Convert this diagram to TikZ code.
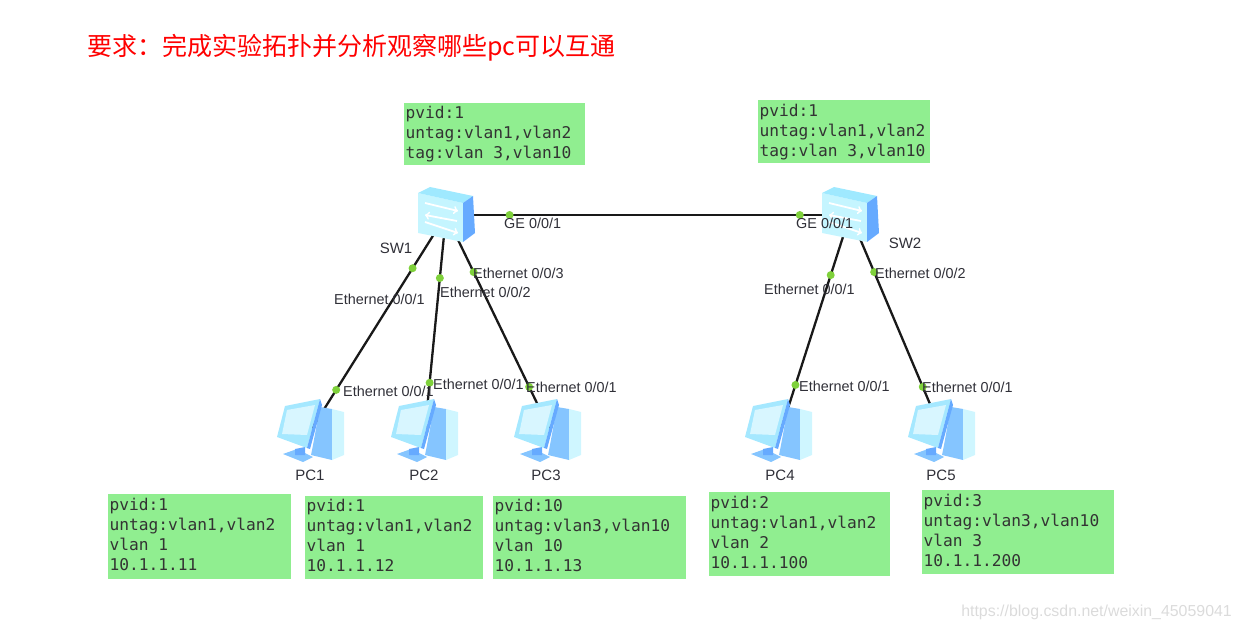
\documentclass[tikz,border=0pt]{standalone}
\usepackage{fontspec}
\setmainfont{Liberation Sans}
\setmonofont{DejaVu Sans Mono}
\newfontfamily\cjk{Noto Sans CJK SC}
\usetikzlibrary{positioning}
\definecolor{boxgreen}{HTML}{90EE90}
\definecolor{portgreen}{HTML}{7FD13B}
\definecolor{lightcyan}{HTML}{C5F5FF}
\definecolor{topcyan}{HTML}{9FE9FF}
\definecolor{sideblue}{HTML}{66AAFF}
\definecolor{midblue}{HTML}{85C5FF}
\definecolor{screencyan}{HTML}{D8F6FF}
\definecolor{monitorcyan}{HTML}{A5E8FF}
\definecolor{towercyan}{HTML}{CFF6FF}
\definecolor{labelgrey}{HTML}{303038}
\tikzset{
  devnode/.style={inner sep=0pt, minimum size=0pt},
  link/.style={line width=2.3pt, black!90},
  portdot/.style={circle, fill=portgreen, inner sep=0pt, minimum size=8pt},
  portlabel/.style={anchor=west, inner sep=0pt, text=labelgrey, font=\fontsize{14.4}{16}\selectfont},
  devlabel/.style={inner sep=0pt, text=labelgrey, font=\fontsize{15}{17}\selectfont},
  greenbox/.style={anchor=north west, fill=boxgreen, inner xsep=1.5pt, inner ysep=0pt, align=flush left, text=black!80,
    font=\ttfamily\fontsize{16.2}{20}\selectfont},
  lowbox/.style={greenbox, execute at end node={\par\vspace*{4pt}}},
  switchicon/.pic={
    \fill[lightcyan] (-28,-22) -- (17,-12) -- (17,27) -- (-28,18) -- cycle;
    \fill[topcyan] (-28,-22) -- (-16,-28) -- (27,-19) -- (17,-12) -- cycle;
    \fill[sideblue] (17,-12) -- (27,-19) -- (29,18) -- (17,27) -- cycle;
    \draw[white, line width=1.8pt, ->] (-21,-12) -- (12,-4);
    \draw[white, line width=1.8pt, <-] (-21,0) -- (11,6);
    \draw[white, line width=1.8pt, ->] (-21,7) -- (12,18);
  },
  pcicon/.pic={
    \fill[midblue] (9,-23) -- (21,-21) -- (21,30) -- (0,25) -- (2,15) -- cycle;
    \fill[towercyan] (21,-21) -- (33,-18) -- (33,25) -- (21,30) -- cycle;
    \fill[midblue] (-28,24) -- (-14,19) -- (2,27) -- (-8,32) -- cycle;
    \fill[sideblue] (-16,19) -- (-6,17) -- (-6,25) -- (-16,25) -- cycle;
    \fill[monitorcyan] (-34,7) -- (-26,-24) -- (9,-31) -- (-4,18) -- cycle;
    \fill[sideblue] (9,-31) -- (11,-25) -- (-1,19) -- (-4,18) -- cycle;
    \fill[screencyan] (-29,4) -- (-24,-20) -- (4,-25) -- (-4,5) -- cycle;
  }
}
\begin{document}
\begin{tikzpicture}[x=1pt, y=-1pt]
  \useasboundingbox (0,0) rectangle (1240,631);
  \node[anchor=west, inner sep=0pt, text=red, font=\cjk\fontsize{25}{30}\selectfont] (title) at (87,48) {要求：完成实验拓扑并分析观察哪些pc可以互通};

  \node[greenbox, text width=178pt, minimum height=62pt] (boxsw1) at (404,103) {pvid:1\\untag:vlan1,vlan2\\tag:vlan 3,vlan10};
  \node[greenbox, text width=169pt, minimum height=63pt] (boxsw2) at (758,100) {pvid:1\\untag:vlan1,vlan2\\tag:vlan 3,vlan10};
  \node[lowbox, text width=180pt, minimum height=85pt] (boxpc1) at (108,494) {pvid:1\\untag:vlan1,vlan2\\vlan 1\\10.1.1.11};
  \node[lowbox, text width=175pt, minimum height=83pt] (boxpc2) at (305,496) {pvid:1\\untag:vlan1,vlan2\\vlan 1\\10.1.1.12};
  \node[lowbox, text width=190pt, minimum height=83pt] (boxpc3) at (493,496) {pvid:10\\untag:vlan3,vlan10\\vlan 10\\10.1.1.13};
  \node[lowbox, text width=178pt, minimum height=84pt] (boxpc4) at (709,492) {pvid:2\\untag:vlan1,vlan2\\vlan 2\\10.1.1.100};
  \node[lowbox, text width=189pt, minimum height=84pt] (boxpc5) at (922,490) {pvid:3\\untag:vlan3,vlan10\\vlan 3\\10.1.1.200};

  \node[devnode] (sw1) at (446,215) {};
  \node[devnode] (sw2) at (850,215) {};
  \node[devnode] (pc1) at (311,430) {};
  \node[devnode] (pc2) at (425,430) {};
  \node[devnode] (pc3) at (550,430) {};
  \node[devnode] (pc4) at (781,430) {};
  \node[devnode] (pc5) at (941,430) {};

  \draw[link] (sw1) -- node[portdot, pos=.157] (d1) {} node[portdot, pos=.876] (d2) {} (sw2);
  \draw[link] (sw1) -- node[portdot, pos=.247] (d3) {} node[portdot, pos=.814] (d4) {} (pc1);
  \draw[link] (sw1) -- node[portdot, pos=.293] (d5) {} node[portdot, pos=.781] (d6) {} (pc2);
  \draw[link] (sw1) -- node[portdot, pos=.265] (d7) {} node[portdot, pos=.800] (d8) {} (pc3);
  \draw[link] (sw2) -- node[portdot, pos=.279] (d9) {} node[portdot, pos=.791] (d10) {} (pc4);
  \draw[link] (sw2) -- node[portdot, pos=.265] (d11) {} node[portdot, pos=.800] (d12) {} (pc5);

  \pic at (sw1) {switchicon};
  \pic at (sw2) {switchicon};
  \pic at (pc1) {pcicon};
  \pic at (pc2) {pcicon};
  \pic[xshift=-2pt] at (pc3) {pcicon};
  \pic[xshift=-2pt] at (pc4) {pcicon};
  \pic[xshift=1pt] at (pc5) {pcicon};

  \node[devlabel] (lsw1) at (396,248) {SW1};
  \node[devlabel] (lsw2) at (905,243) {SW2};
  \node[devlabel] (lpc1) at (310,475) {PC1};
  \node[devlabel] (lpc2) at (424,475) {PC2};
  \node[devlabel] (lpc3) at (546,475) {PC3};
  \node[devlabel] (lpc4) at (780,475) {PC4};
  \node[devlabel] (lpc5) at (941,475) {PC5};

  \node[portlabel] (t1) at (504,223) {GE 0/0/1};
  \node[portlabel] (t2) at (796,223) {GE 0/0/1};
  \node[portlabel] (t3) at (334,299) {Ethernet 0/0/1};
  \node[portlabel] (t4) at (343,391) {Ethernet 0/0/1};
  \node[portlabel] (t5) at (440,292) {Ethernet 0/0/2};
  \node[portlabel] (t6) at (433,384) {Ethernet 0/0/1};
  \node[portlabel] (t7) at (473,273) {Ethernet 0/0/3};
  \node[portlabel] (t8) at (526,387) {Ethernet 0/0/1};
  \node[portlabel] (t9) at (764,289) {Ethernet 0/0/1};
  \node[portlabel] (t10) at (799,386) {Ethernet 0/0/1};
  \node[portlabel] (t11) at (875,273) {Ethernet 0/0/2};
  \node[portlabel] (t12) at (922,387) {Ethernet 0/0/1};

  \node[anchor=east, inner sep=0pt, text=black!14, font=\fontsize{15.9}{18}\selectfont] (mark) at (1232,612) {https://blog.csdn.net/weixin\_45059041};
\end{tikzpicture}
\end{document}
